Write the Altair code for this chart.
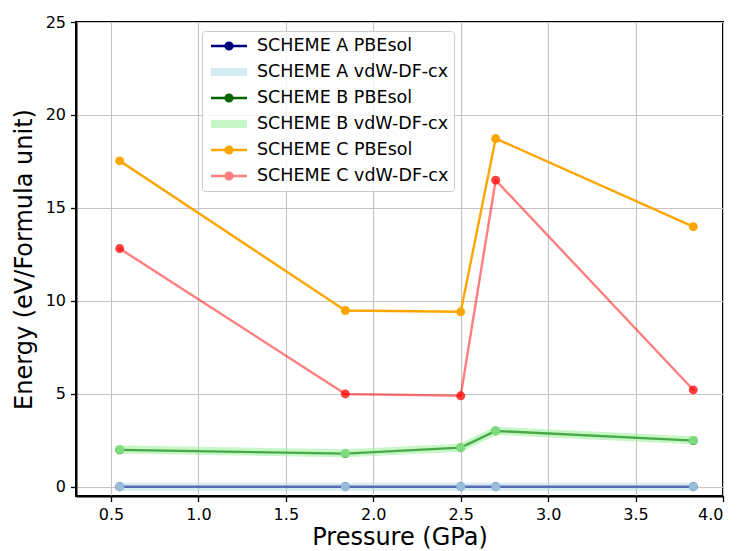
import altair as alt
import pandas as pd

# ---- data ----
pressure = [0.55, 1.84, 2.50, 2.70, 3.83]
series_names = [
    "SCHEME A PBEsol",
    "SCHEME A vdW-DF-cx",
    "SCHEME B PBEsol",
    "SCHEME B vdW-DF-cx",
    "SCHEME C PBEsol",
    "SCHEME C vdW-DF-cx",
]
scheme_a_pbesol = [0.0, 0.0, 0.0, 0.0, 0.0]
scheme_a_vdw = [0.0, 0.0, 0.0, 0.0, 0.0]
scheme_b_pbesol = [1.98, 1.78, 2.10, 3.00, 2.48]
scheme_b_vdw = [2.00, 1.80, 2.10, 3.00, 2.50]
scheme_c_pbesol = [17.53, 9.48, 9.41, 18.73, 13.99]
scheme_c_vdw = [12.81, 4.99, 4.89, 16.49, 5.21]
x_ticks = [0.5, 1.0, 1.5, 2.0, 2.5, 3.0, 3.5, 4.0]
y_ticks = [0, 5, 10, 15, 20, 25]

# ---- styles ----
colors = ["navy", "lightblue", "darkgreen", "lightgreen", "orange", "red"]
line_widths = [2.4, 8, 2.4, 8, 2.4, 2.4]
line_opacity = [1, 0.5, 1, 0.5, 1, 0.5]
point_opacity = [1, 0.75, 1, 0.75, 1, 0.75]
LINE = "M-1,0L1,0"
LINE_DOT = "M-1,0L1,0M-0.19,0A0.19,0.19,0,1,1,0.19,0A0.19,0.19,0,1,1,-0.19,0Z"
legend_shapes = [LINE_DOT, LINE, LINE_DOT, LINE, LINE_DOT, LINE_DOT]

values = [scheme_a_pbesol, scheme_a_vdw, scheme_b_pbesol, scheme_b_vdw, scheme_c_pbesol, scheme_c_vdw]
rows = []
for name, vals in zip(series_names, values):
    for p, v in zip(pressure, vals):
        rows.append({"series": name, "pressure": p, "energy": v})
df = pd.DataFrame(rows)


def mk_legend():
    return alt.Legend(
        title=None,
        orient="none",
        legendX=126,
        legendY=9,
        direction="vertical",
        columns=1,
        symbolSize=1296,
        clipHeight=20,
        rowPadding=6,
        padding=5,
        labelOffset=6,
        labelFont="DejaVu Sans",
        labelFontSize=17.5,
        labelColor="black",
        labelLimit=400,
        fillColor="rgba(255,255,255,0.8)",
        strokeColor="#cccccc",
        cornerRadius=3,
    )


x_enc = alt.X(
    "pressure:Q",
    scale=alt.Scale(domain=[0.3, 4.0], nice=False, zero=False),
    axis=alt.Axis(values=x_ticks, format=".1f", title="Pressure (GPa)"),
)
y_enc = alt.Y(
    "energy:Q",
    scale=alt.Scale(domain=[-0.5, 25], nice=False, zero=False),
    axis=alt.Axis(values=y_ticks, format="d", title="Energy (eV/Formula unit)"),
)
color_enc = alt.Color(
    "series:N", scale=alt.Scale(domain=series_names, range=colors), legend=mk_legend()
)
sw_enc = alt.StrokeWidth(
    "series:N",
    scale=alt.Scale(type="ordinal", domain=series_names, range=line_widths),
    legend=mk_legend(),
)
op_enc = alt.Opacity(
    "series:N",
    scale=alt.Scale(type="ordinal", domain=series_names, range=line_opacity),
    legend=mk_legend(),
)
shape_enc = alt.Shape(
    "series:N", scale=alt.Scale(domain=series_names, range=legend_shapes), legend=mk_legend()
)

base = alt.Chart(df)
layers = []
for name, po in zip(series_names, point_opacity):
    sub = base.transform_filter(alt.datum.series == name)
    layers.append(
        sub.mark_line(strokeCap="square", strokeJoin="round").encode(
            x=x_enc, y=y_enc, color=color_enc, strokeWidth=sw_enc, opacity=op_enc
        )
    )
    layers.append(
        sub.mark_circle(size=80, fillOpacity=po).encode(x=x_enc, y=y_enc, color=color_enc)
    )

# shape scale only used by the legend (no visible marks)
layers.append(
    base.transform_filter("false")
    .mark_point(filled=True)
    .encode(x=x_enc, y=y_enc, color=color_enc, shape=shape_enc)
)

chart = (
    alt.layer(*layers)
    .properties(
        width=647,
        height=474,
        autosize=alt.AutoSizeParams(type="none"),
        padding={"left": 76, "top": 22, "right": 14, "bottom": 55},
    )
    .configure_view(stroke="black", strokeWidth=2)
    .configure_axis(
        grid=True,
        gridColor="#c4c4c4",
        gridWidth=1.1,
        domainColor="black",
        domainWidth=2,
        tickColor="black",
        tickSize=5.5,
        tickWidth=1.3,
        labelFont="DejaVu Sans",
        labelFontSize=16,
        labelColor="black",
        titleFont="DejaVu Sans",
        titleFontSize=24,
        titleFontWeight="normal",
        titleColor="black",
    )
    .configure_axisX(labelPadding=4.5, titlePadding=3.5)
    .configure_axisY(labelPadding=5, titlePadding=9)
)

chart.save("out.html", embed_options={"renderer": "svg", "actions": False})
